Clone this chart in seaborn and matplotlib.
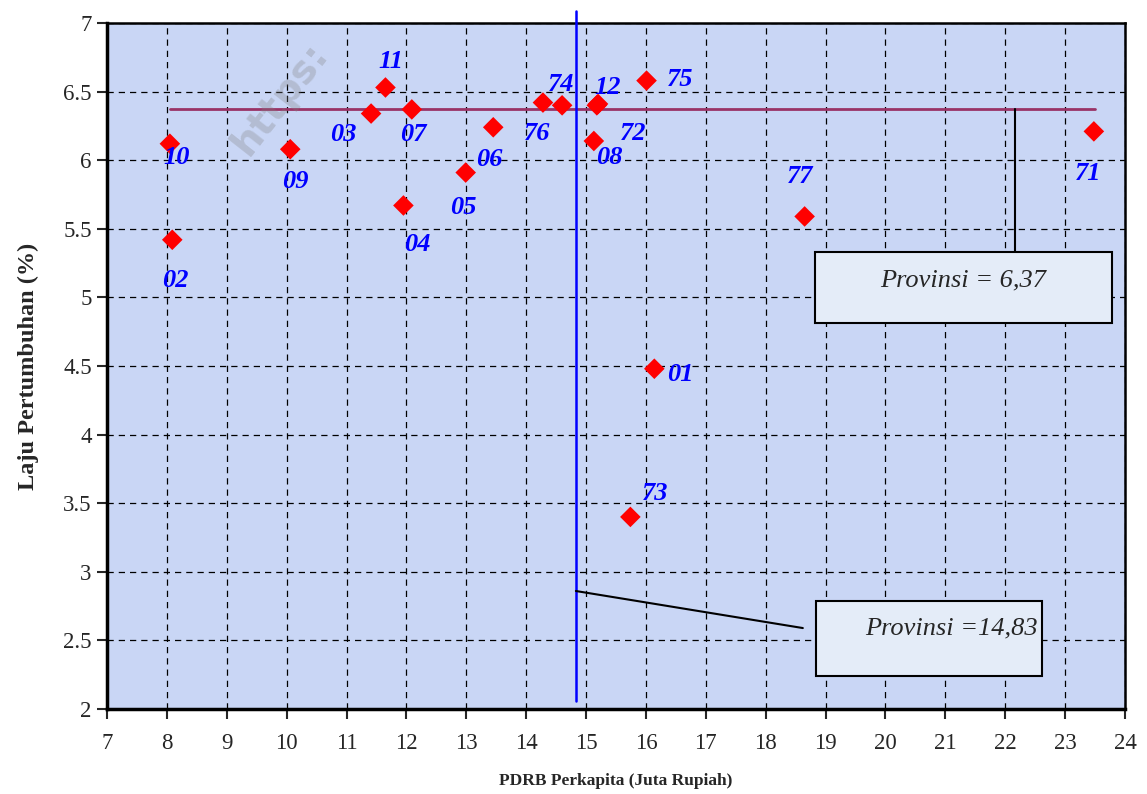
import numpy as np
import pandas as pd
import matplotlib.pyplot as plt
from matplotlib.patches import Rectangle
import seaborn as sns

# kode kabupaten/kota, PDRB perkapita (juta rupiah), laju pertumbuhan (%)
kode = ['10', '02', '09', '03', '11', '07', '04', '05', '06', '76',
        '74', '12', '72', '08', '75', '01', '73', '77', '71']
pdrb = [8.05, 8.09, 10.06, 11.41, 11.65, 12.09, 11.95, 12.99, 13.45, 14.28,
        14.60, 15.18, 15.20, 15.13, 16.01, 16.14, 15.74, 18.65, 23.48]
laju = [6.12, 5.42, 6.08, 6.34, 6.53, 6.37, 5.67, 5.91, 6.24, 6.42,
        6.40, 6.40, 6.41, 6.14, 6.58, 4.48, 3.40, 5.59, 6.21]

prov_pdrb = 14.83
prov_laju = 6.37

# label offsets in screen points (dx, dy)
offsets = [(5, -10), (2, -29), (4, -23), (-20, -15), (4, 19), (1, -18), (10, -28), (-2, -25),
           (-3, -23), (-4, -22), (-1, 15), (8, 13), (25, -21), (11, -12), (24, 1),
           (19, -4), (18, 17), (-3, 29), (-4, -30)]

df = pd.DataFrame({'kode': kode, 'pdrb': pdrb, 'laju': laju})

sns.set_style('white')
plt.rcParams['font.family'] = ['Liberation Serif', 'DejaVu Serif']

fig = plt.figure(figsize=(11.47, 7.94), dpi=100)
ax = fig.add_axes([107/1147, 1 - 709/794, (1125-107)/1147, (709-23)/794])
ax.set_facecolor('#c9d6f5')

ax.set_xlim(7, 24)
ax.set_ylim(2, 7)
ax.set_xticks(np.arange(7, 25, 1))
ax.set_yticks(np.arange(2, 7.01, 0.5))
ax.set_yticklabels(['2', '2.5', '3', '3.5', '4', '4.5', '5', '5.5', '6', '6.5', '7'])
ax.grid(True, color='black', linestyle=(0, (5, 4)), linewidth=0.9)
ax.set_axisbelow(True)

sns.scatterplot(data=df, x='pdrb', y='laju', marker='D', s=110, color='#ff0000',
                edgecolor='none', ax=ax, zorder=5)

for k, x, y, (dx, dy) in zip(kode, pdrb, laju, offsets):
    ax.annotate(k, (x, y), xytext=(dx, dy), textcoords='offset points',
                ha='center', va='center', color='#0000ff', fontsize=19,
                fontweight='bold', fontstyle='italic', zorder=6)

# garis rata-rata provinsi
ax.plot([8.05, 23.5], [prov_laju, prov_laju], color='#993366', lw=2, zorder=4)
ax.plot([prov_pdrb, prov_pdrb], [2.06, 7.09], color='#0000ff', lw=1.8, zorder=4,
        clip_on=False)

# kotak keterangan
ax.plot([22.16, 22.16], [prov_laju, 5.33], color='black', lw=1.5, zorder=4)
ax.add_patch(Rectangle((18.83, 4.81), 4.96, 0.52, fc='#e4ecf8', ec='black', lw=1.5, zorder=6))
ax.text(21.3, 5.12, 'Provinsi = 6,37', ha='center', va='center', fontsize=19,
        fontstyle='italic', zorder=7)

ax.plot([prov_pdrb, 18.62], [2.86, 2.59], color='black', lw=1.5, zorder=4)
ax.add_patch(Rectangle((18.84, 2.24), 3.78, 0.55, fc='#e4ecf8', ec='black', lw=1.5, zorder=6))
ax.text(21.1, 2.59, 'Provinsi =14,83', ha='center', va='center', fontsize=19,
        fontstyle='italic', zorder=7)

for side in ['left', 'bottom', 'top', 'right']:
    ax.spines[side].set_color('black')
ax.spines['left'].set_linewidth(2.5)
ax.spines['bottom'].set_linewidth(2.5)
ax.spines['top'].set_linewidth(1.8)
ax.spines['right'].set_linewidth(1.8)
ax.tick_params(axis='both', direction='out', length=7, width=1.5, labelsize=16.5,
               bottom=True, left=True, pad=4)
ax.tick_params(axis='x', pad=10)

ax.set_xlabel('PDRB Perkapita (Juta Rupiah)', fontsize=12.5, fontweight='bold', labelpad=14)
ax.set_ylabel('Laju Pertumbuhan (%)', fontsize=17.5, fontweight='bold', labelpad=17)

# watermark samar
fig.text(240/1147, 1 - 150/794, 'https:', fontsize=28, fontweight='bold',
         family='DejaVu Sans', color='#808080', alpha=0.3, rotation=52,
         rotation_mode='anchor', ha='left', va='center', zorder=10)

fig.savefig('out.png', dpi=100)
